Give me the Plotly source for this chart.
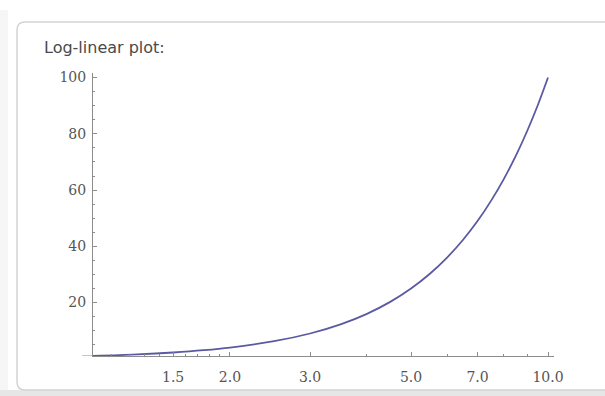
import plotly.graph_objects as go

# ---- data ----
x_vals = [1.0, 1.25, 1.5, 1.75, 2.0, 2.5, 3.0, 3.5, 4.0, 4.5, 5.0, 5.5, 6.0, 6.5, 7.0, 7.5, 8.0, 8.5, 9.0, 9.5, 10.0]
y_vals = [1.0, 1.56, 2.25, 3.06, 4.0, 6.25, 9.0, 12.25, 16.0, 20.25, 25.0, 30.25, 36.0, 42.25, 49.0, 56.25, 64.0, 72.25, 81.0, 90.25, 100.0]

x_tick_vals = [1.5, 2.0, 3.0, 5.0, 7.0, 10.0]
x_tick_text = ["1.5", "2.0", "3.0", "5.0", "7.0", "10.0"]
x_minor_vals = [1.1, 1.2, 1.3, 1.4, 1.6, 1.7, 1.8, 1.9, 4.0, 6.0, 8.0, 9.0]
y_tick_vals = [20, 40, 60, 80, 100]
y_tick_text = ["20", "40", "60", "80", "100"]

title_text = "Log-linear plot:"

W, H = 605, 396
ML, MR, MT, MB = 93, 51, 73, 40
PW, PH = W - ML - MR, H - MT - MB


def px(xp):
    return (xp - ML) / PW


def py(yp):
    return (H - MB - yp) / PH


fig = go.Figure()
fig.add_trace(go.Scatter(
    x=x_vals, y=y_vals, mode="lines",
    line=dict(color="#5a5aa0", width=1.8, shape="spline"),
    hoverinfo="skip", showlegend=False,
))

axis_col = "#8c8c8c"
tick_font = dict(family="DejaVu Serif", size=14, color="#555555")

fig.update_xaxes(
    type="log",
    range=[0, (PW) / 455.0],
    showline=True, linecolor=axis_col, linewidth=1,
    showgrid=False, zeroline=False,
    tickmode="array", tickvals=x_tick_vals, ticktext=x_tick_text,
    ticks="inside", ticklen=4, tickcolor=axis_col, tickwidth=1,
    tickfont=tick_font, ticklabelstandoff=8,
    minor=dict(tickmode="array", tickvals=x_minor_vals, ticks="inside",
               ticklen=2, tickcolor=axis_col, showgrid=False),
    fixedrange=True,
)
fig.update_yaxes(
    range=[1, 1 + PH / 2.8125],
    showline=True, linecolor=axis_col, linewidth=1,
    showgrid=False, zeroline=False,
    tickmode="array", tickvals=y_tick_vals, ticktext=y_tick_text,
    ticks="inside", ticklen=4, tickcolor=axis_col, tickwidth=1,
    tickfont=tick_font, ticklabelstandoff=3,
    minor=dict(dtick=5, tick0=0, ticks="inside", ticklen=2,
               tickcolor=axis_col, showgrid=False),
    fixedrange=True,
)

# rounded box frame
x0, x1, y0, y1, r = px(17), px(640), py(22), py(390), 8
rx, ry = r / PW, r / PH
path = (f"M {x0+rx} {y0} L {x1} {y0} L {x1} {y1} L {x0+rx} {y1} "
        f"Q {x0} {y1} {x0} {y1+ry} L {x0} {y0-ry} Q {x0} {y0} {x0+rx} {y0} Z")
shapes = [
    dict(type="rect", xref="paper", yref="paper", x0=px(0), x1=px(W), y0=py(390), y1=py(H + 2),
         fillcolor="#e6e6e6", line=dict(width=0), layer="below"),
    dict(type="rect", xref="paper", yref="paper", x0=px(0), x1=px(8), y0=py(10), y1=py(390),
         fillcolor="#f6f6f6", line=dict(width=0), layer="below"),
    dict(type="path", xref="paper", yref="paper", path=path,
         fillcolor="white", line=dict(color="#d4d4d4", width=1.5), layer="below"),
    # x-axis extends slightly left of the y-axis
    dict(type="line", xref="paper", yref="y", x0=px(82), x1=0, y0=1, y1=1,
         line=dict(color=axis_col, width=1)),
]

fig.update_layout(
    width=W, height=H,
    margin=dict(l=ML, r=MR, t=MT, b=MB),
    paper_bgcolor="white", plot_bgcolor="rgba(0,0,0,0)",
    shapes=shapes,
    title=dict(text=title_text, xref="container", yref="container",
               x=44 / W, y=1 - 47 / H, xanchor="left", yanchor="middle",
               font=dict(family="DejaVu Sans", size=16, color="#4a4a4a")),
    showlegend=False,
)

fig.write_html(
    "out.html",
    config={"displayModeBar": False, "staticPlot": True},
    post_script="document.body.style.margin='0px';document.body.style.overflow='hidden';",
)
